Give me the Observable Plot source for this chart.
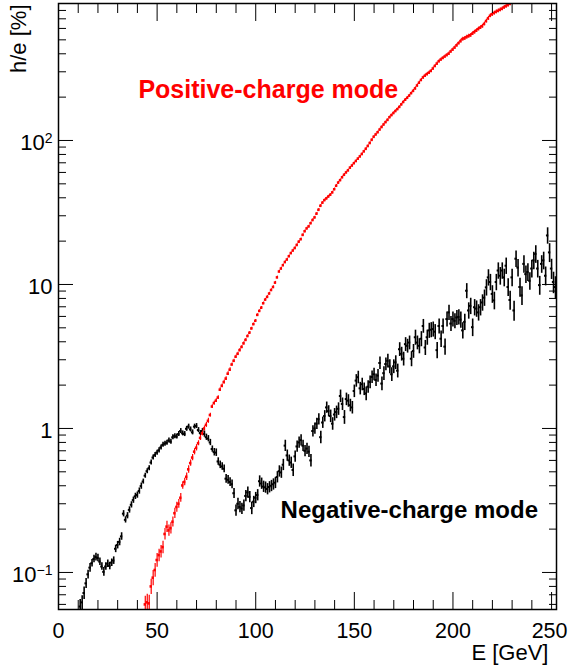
<!DOCTYPE html>
<html><head><meta charset="utf-8">
<script src="https://cdn.jsdelivr.net/npm/d3@7"></script>
<script src="https://cdn.jsdelivr.net/npm/@observablehq/plot@0.6"></script>
<style>html,body{margin:0;padding:0;background:#fff}</style>
</head><body><div id="chart"></div>
<script>
// ---------- DATA ----------
// Negative-charge mode: 1 GeV bins from 11 to 252 GeV
const negEnergy = d3.range(11, 253);
const negValue = [
  0.058,0.062,0.072,0.084,0.097,0.108,0.116,0.124,0.128,0.126,
  0.119,0.110,0.101,0.110,0.115,0.111,0.117,0.121,0.146,0.155,
  0.163,0.178,0.256,0.232,0.248,0.272,0.295,0.318,0.338,0.345,
  0.368,0.398,0.428,0.470,0.505,0.530,0.580,0.628,0.655,0.680,
  0.705,0.738,0.770,0.785,0.795,0.825,0.810,0.868,0.885,0.880,
  0.915,0.960,0.925,0.915,0.995,1.03,0.985,0.940,1.03,1.04,
  0.975,0.930,0.960,0.915,0.870,0.850,0.800,0.720,0.685,0.680,
  0.590,0.560,0.545,0.525,0.448,0.440,0.425,0.410,0.355,0.270,
  0.300,0.285,0.278,0.292,0.340,0.360,0.335,0.280,0.310,0.330,
  0.345,0.430,0.415,0.395,0.390,0.380,0.392,0.400,0.410,0.420,
  0.460,0.505,0.495,0.560,0.760,0.650,0.600,0.580,0.515,0.640,
  0.750,0.800,0.830,0.760,0.700,0.725,0.690,0.600,0.960,1.00,
  1.08,1.16,0.870,1.10,1.22,1.40,1.32,1.22,1.08,1.25,
  1.30,1.37,1.68,1.48,1.20,1.60,1.56,1.45,1.40,1.82,
  2.15,2.27,1.90,2.03,1.88,1.75,1.95,2.10,2.28,2.38,
  2.17,2.33,2.85,2.05,2.42,2.80,2.95,2.70,2.38,2.70,
  2.88,2.52,3.55,3.30,3.05,3.85,3.75,3.95,3.05,3.45,
  4.30,3.95,3.75,4.20,5.15,3.65,4.30,4.80,4.85,4.90,
  4.70,3.50,5.15,4.20,5.15,3.70,5.75,6.40,5.35,5.75,
  5.60,5.90,5.95,5.70,4.80,5.50,9.05,6.60,7.10,5.05,
  6.95,6.80,6.40,6.95,7.50,8.10,9.55,11.2,10.4,8.60,
  7.75,10.4,12.5,11.5,12.5,11.2,13.5,9.6,7.8,11.2,
  6.6,15.1,13.1,9.6,8.4,13.9,11.8,12.2,10.6,12.9,
  14.7,16.3,12.9,9.9,13.9,14.7,11.5,21.9,16.7,12.9,
  10.4,9.6
];
const negErrPct = [
  12,11,10,8,7,7,6,6,6,6,
  6,6,7,6,6,6,6,6,6,6,
  6,6,5,5,5,5,5,5,5,5,
  5,5,4,4,4,4,4,4,4,4,
  4,4,4,4,4,4,4,4,4,4,
  4,4,4,4,4,4,4,4,4,4,
  4,4,4,5,5,5,5,5,6,6,
  6,6,6,6,7,7,7,7,8,9,
  9,9,9,9,9,9,9,10,9,9,
  9,9,9,9,9,9,9,9,9,9,
  9,9,9,9,9,9,9,9,10,9,
  9,9,9,9,9,9,9,10,9,9,
  9,9,10,9,9,9,9,10,10,10,
  10,10,10,10,11,10,10,10,10,10,
  10,10,10,10,10,11,10,10,10,10,
  10,10,10,11,11,10,11,11,11,11,
  11,11,11,11,11,11,11,11,12,11,
  12,11,12,12,11,12,12,12,12,12,
  12,13,12,13,12,13,12,12,12,12,
  12,12,12,13,13,13,12,13,13,14,
  13,13,13,13,13,13,13,13,13,14,
  14,13,13,14,13,14,13,14,15,14,
  16,13,14,15,15,14,14,14,14,14,
  14,14,14,15,14,14,15,13,15,16,
  17,18
];
// Positive-charge mode: 1 GeV bins from 44 to 229 GeV
const posEnergy = d3.range(44, 230);
const posValue = [
  0.060,0.062,0.061,0.080,0.092,0.104,0.122,0.132,0.140,0.150,
  0.185,0.208,0.196,0.203,0.225,0.258,0.285,0.300,0.330,0.402,
  0.425,0.462,0.520,0.575,0.628,0.690,0.735,0.790,0.860,0.925,
  1.00,1.06,1.13,1.24,1.42,1.50,1.56,1.64,1.86,1.98,
  2.10,2.22,2.40,2.56,2.78,2.95,3.15,3.30,3.50,3.68,
  3.90,4.12,4.38,4.62,4.95,5.30,5.60,6.15,6.55,6.90,
  7.40,7.85,8.20,8.65,9.15,9.60,10.3,11.2,12.3,12.9,
  13.6,14.3,14.9,15.7,16.5,17.2,17.9,18.8,19.8,20.6,
  22.1,23.4,24.5,25.3,26.6,28.0,29.2,31.0,33.0,35.2,
  37.0,38.5,39.6,40.8,42.0,43.6,45.8,48.5,51.0,53.0,
  55.5,57.8,60.0,62.0,64.8,67.0,69.5,72.0,74.8,77.5,
  80.5,84.0,87.5,91.5,96.0,101,106,110,114,119,
  124,129,134,139,145,150,155,160,165,171,
  178,185,192,198,205,213,221,230,241,252,
  263,274,282,289,296,304,316,329,342,355,
  365,374,383,392,401,415,428,442,458,474,
  490,506,512,522,530,538,552,566,580,595,
  608,622,645,675,705,735,752,768,782,795,
  808,822,840,856,872,890
];
const posErrPct = [
  14,14,14,12,12,11,11,10,10,10,
  9,9,9,9,8,8,8,7,7,6,
  6,6,6,5,5,5,5,4,4,4,
  4,4,4,3,3,3,3,3,3,3,
  3,3,3,3,2.5,2.5,2.5,2.5,2.5,2.5,
  2.5,2.5,2,2,2,2,2,2,2,2,
  2,2,2,2,2,2,2,2,2,2,
  2,2,2,2,2,2,2,2,2,2,
  2,2,2,2,2,2,2,2,2,2,
  2,2,2,2,2,2,2,2,2,2,
  2,2,2,2,2,2,2,2,2,2,
  2,2,2,2,2,2,2,2,2,2,
  2,2,2,2,2,2,2,2,2,2,
  2,2,2,2,2,2,2.5,2.5,2.5,2.5,
  2.5,2.5,2.5,2.5,2.5,2.5,2.5,2.5,2.5,2.5,
  2.5,2.5,2.5,2.5,2.5,2.5,2.5,2.5,2.5,2.5,
  3,3,3,3,3,3,3,3,3,3,
  3,3,3,3,3,3,3,3,3,3,
  3,3,3,3,3,3
];
// Ticks and labels
const xMajor = [0, 50, 100, 150, 200, 250];
const xMinor = [10,20,30,40,60,70,80,90,110,120,130,140,160,170,180,190,210,220,230,240];
const yMajor = [0.1, 1, 10, 100];
const yMajorLabels = ["10^\u22121", "1", "10", "10^2"];
const yMinor = [0.06,0.07,0.08,0.09,0.2,0.3,0.4,0.5,0.6,0.7,0.8,0.9,2,3,4,5,6,7,8,9,20,30,40,50,60,70,80,90,200,300,400,500,600,700,800];
const annotations = [
  {label: "Positive-charge mode", x: 40.5, y: 197, color: "#ff0000", size: 25},
  {label: "Negative-charge mode", x: 112.6, y: 0.237, color: "#000000", size: 24}
];

// ---------- BUILD ----------
const neg = negEnergy.map((e, i) => ({e, v: negValue[i], err: negErrPct[i] / 100}));
const pos = posEnergy.map((e, i) => ({e, v: posValue[i], err: posErrPct[i] / 100}));
const font = "'Liberation Sans', Arial, Helvetica, sans-serif";
const blank = () => "";

function bars(data, color, vw, hw) {
  return [
    Plot.ruleX(data, {x: "e", y1: d => d.v * (1 - d.err), y2: d => d.v * (1 + d.err), stroke: color, strokeWidth: vw, clip: true}),
    Plot.ruleY(data, {y: "v", x1: d => d.e - 0.6, x2: d => d.e + 0.6, stroke: color, strokeWidth: hw, clip: true})
  ];
}

const svg = Plot.plot({
  width: 568, height: 672,
  marginLeft: 58, marginRight: 12, marginTop: 3, marginBottom: 63,
  style: {fontFamily: font, background: "#fff", color: "#000"},
  x: {domain: [0, 252.5]},
  y: {type: "log", domain: [0.0553, 894]},
  marks: [
    ...bars(neg, "#000", 1.6, 2),
    ...bars(pos, "#ff0000", 1.2, 2.6),
    // inward ticks, all four sides
    Plot.axisX({anchor: "bottom", ticks: xMinor, tickSize: -9, tickFormat: blank, label: null}),
    Plot.axisX({anchor: "bottom", ticks: xMajor, tickSize: -17, tickFormat: blank, label: null}),
    Plot.axisX({anchor: "top", ticks: xMinor, tickSize: -9, tickFormat: blank, label: null}),
    Plot.axisX({anchor: "top", ticks: xMajor, tickSize: -17, tickFormat: blank, label: null}),
    Plot.axisY({anchor: "left", ticks: yMinor, tickSize: -8, tickFormat: blank, label: null}),
    Plot.axisY({anchor: "left", ticks: yMajor, tickSize: -15, tickFormat: blank, label: null}),
    Plot.axisY({anchor: "right", ticks: yMinor, tickSize: -8, tickFormat: blank, label: null}),
    Plot.axisY({anchor: "right", ticks: yMajor, tickSize: -15, tickFormat: blank, label: null}),
    Plot.frame({stroke: "#000", strokeWidth: 1.5}),
    // tick labels
    Plot.text(xMajor, {x: d => d, frameAnchor: "bottom", lineAnchor: "bottom", dy: 28, text: d => String(d), fontSize: 21.5, fill: "#000"}),
    Plot.text(yMajor, {y: d => d, frameAnchor: "left", textAnchor: "end", dx: -6, dy: 2, text: (d, i) => yMajorLabels[i], fontSize: 22, fill: "#000"}),
    // axis titles
    Plot.text(["E [GeV]"], {text: d => d, frameAnchor: "bottom-right", textAnchor: "end", lineAnchor: "bottom", dx: -8, dy: 50, fontSize: 22, fill: "#000"}),
    Plot.text(["h/e [%]"], {text: d => d, frameAnchor: "top-left", textAnchor: "end", lineAnchor: "bottom", rotate: -90, dx: -33, dy: 1, fontSize: 22, fill: "#000"}),
    // annotations
    Plot.text(annotations, {x: "x", y: "y", text: "label", fill: "color", textAnchor: "start", lineAnchor: "bottom", fontSize: 25, fontWeight: "bold"})
  ]
});

// superscripts for 10^n labels
d3.select(svg).selectAll("text").each(function () {
  const s = this.textContent;
  if (!s || !s.includes("^")) return;
  const [base, exp] = s.split("^");
  const t = d3.select(this);
  t.text(null);
  t.append("tspan").text(base);
  t.append("tspan").attr("dy", "-0.48em").attr("font-size", "14px").text(exp);
});
// per-annotation font size; keep the last x label inside the window
d3.select(svg).selectAll("text").each(function () {
  const a = annotations.find(a => a.label === this.textContent);
  if (a) this.setAttribute("font-size", a.size);
  if (this.textContent === "250") this.setAttribute("dx", -2);
});
document.getElementById("chart").appendChild(svg);
</script></body></html>
